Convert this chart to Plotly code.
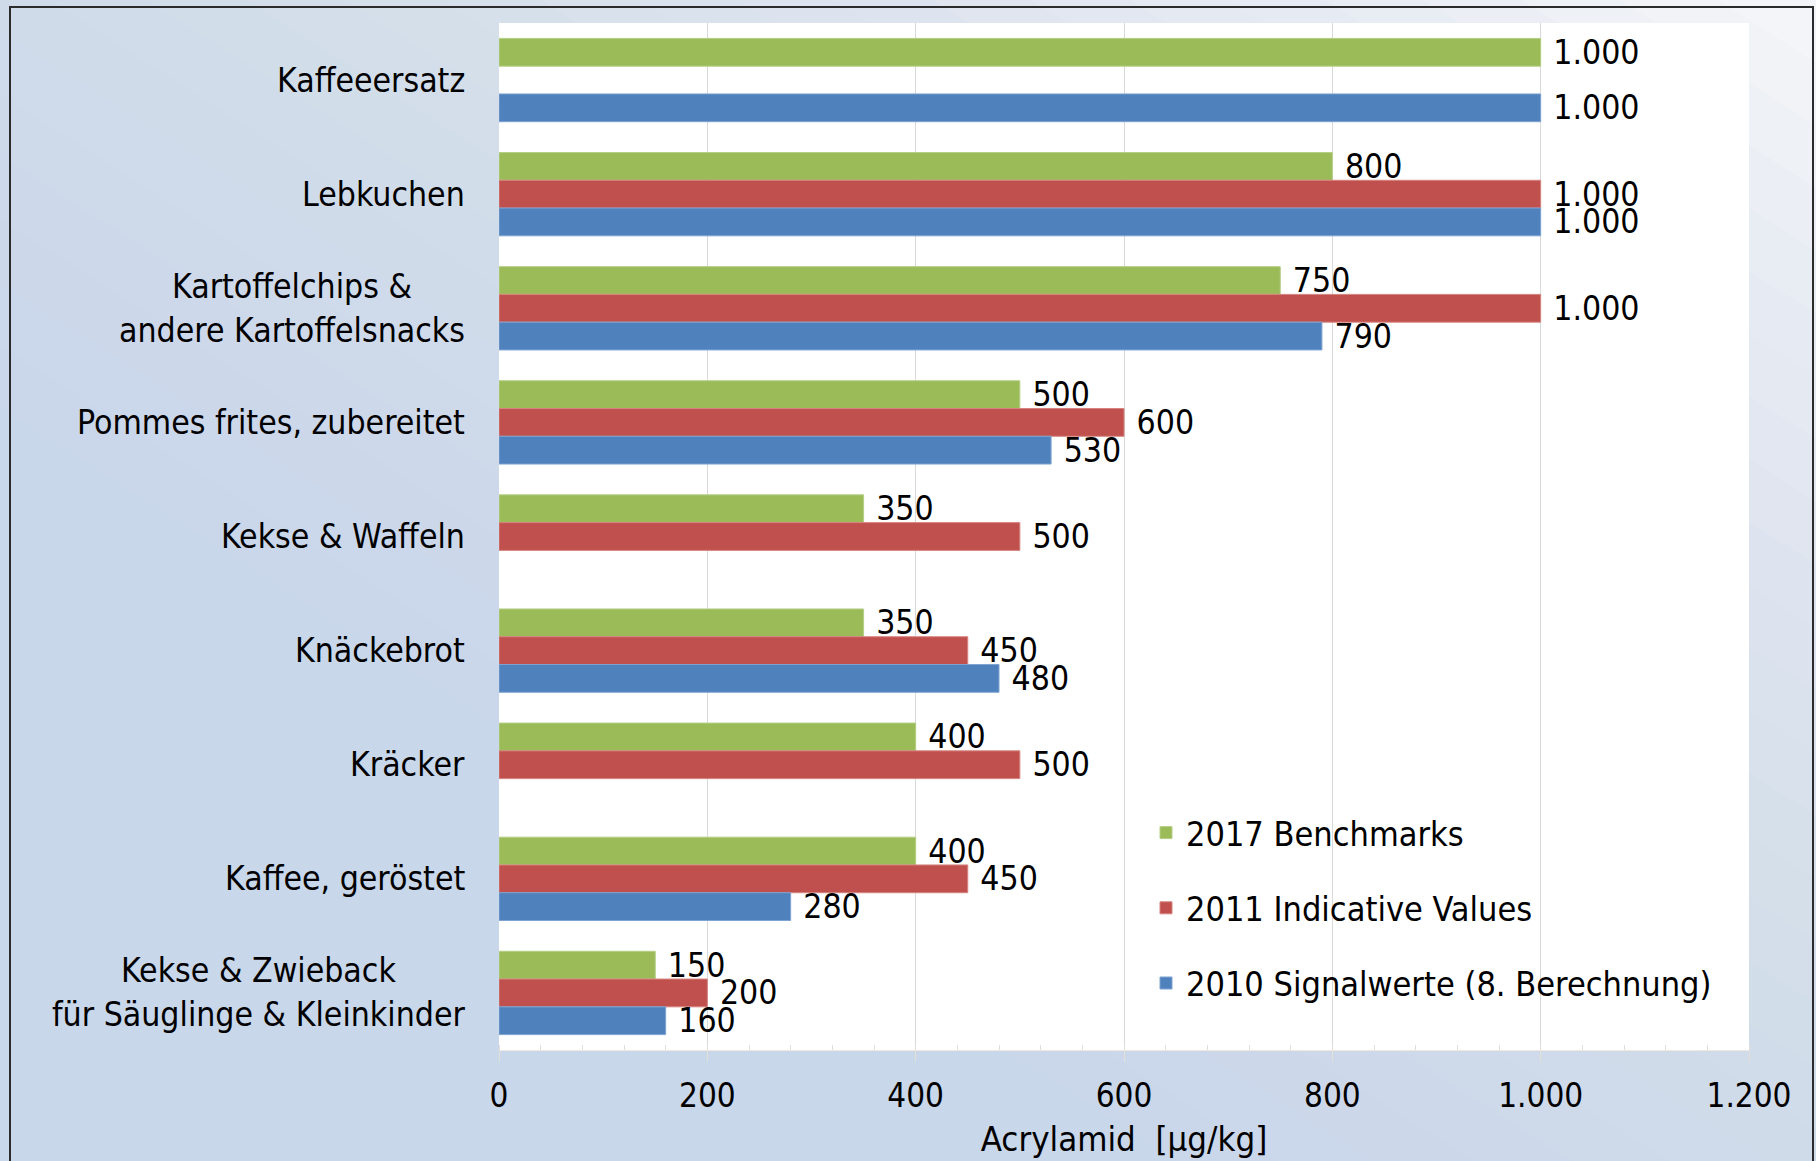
import plotly.graph_objects as go

# ---------------- data ----------------
categories = [
    "Kaffeeersatz",
    "Lebkuchen",
    "Kartoffelchips &<br>andere Kartoffelsnacks",
    "Pommes frites, zubereitet",
    "Kekse & Waffeln",
    "Knäckebrot",
    "Kräcker",
    "Kaffee, geröstet",
    "Kekse & Zwieback<br>für Säuglinge & Kleinkinder",
]
benchmarks_2017 = [1000, 800, 750, 500, 350, 350, 400, 400, 150]
indicative_2011 = [None, 1000, 1000, 600, 500, 450, 500, 450, 200]
signal_2010 = [1000, 1000, 790, 530, None, 480, None, 280, 160]

series_names = ["2017 Benchmarks", "2011 Indicative Values", "2010 Signalwerte (8. Berechnung)"]
series_values = [benchmarks_2017, indicative_2011, signal_2010]
series_colors = ["#9BBB59", "#C0504D", "#4F81BD"]
series_lines = ["#B5CF86", "#D6847F", "#7EA3D2"]

x_ticks = [0, 200, 400, 600, 800, 1000, 1200]
x_title = "Acrylamid  [µg/kg]"

# ---------------- layout geometry ----------------
W, H = 1816, 1161
ML, MR, MT, MB = 499, 67, 23, 111
PW, PH = W - ML - MR, H - MT - MB
FONT = "DejaVu Sans Condensed, DejaVu Sans, sans-serif"


def px(X):
    return (X - ML) / PW


def py(Y):
    return (H - MB - Y) / PH


fig = go.Figure()
for name, vals, col, lcol in zip(series_names, series_values, series_colors, series_lines):
    fig.add_trace(go.Bar(
        y=categories, x=vals, name=name, orientation="h",
        marker=dict(color=col, line=dict(color=lcol, width=1)),
        texttemplate=" %{x:,}", textposition="outside",
        textfont=dict(family=FONT, size=33.5, color="black"),
        constraintext="none", cliponaxis=False,
        legendgroup=name,
    ))

shapes = []
# diagonal background gradient (lighter toward top-right)
N = 36


def white_frac(t):
    return 0.9 * t ** 1.7


prev = 0.0
for k in range(1, N + 1):
    t = k / (N + 1)
    f = white_frac(t)
    a = 1 - (1 - f) / (1 - prev)
    prev = f
    d = 2 * t - 1  # u - v threshold, u = X/W, v = Y/H (from top)
    pts = [(d - 1, -1), (d + 2, 2), (3, 2), (3, -1)]
    path = "M " + " L ".join(f"{px(u * W):.4f},{py(v * H):.4f}" for u, v in pts) + " Z"
    shapes.append(dict(type="path", xref="paper", yref="paper", path=path,
                       fillcolor="white", opacity=a, line=dict(width=0), layer="below"))
# outer frame
shapes.append(dict(type="rect", xref="paper", yref="paper",
                   x0=px(10), x1=px(1813), y0=py(1180), y1=py(7),
                   line=dict(color="#2b2b2b", width=2), fillcolor="rgba(0,0,0,0)", layer="below"))

annotations = []
for c in categories:
    annotations.append(dict(x=px(467), xref="paper", y=c, yref="y", text=c,
                            xanchor="right", yanchor="middle", align="center", showarrow=False,
                            font=dict(family=FONT, size=33.5, color="black")))

fig.update_layout(
    width=W, height=H,
    margin=dict(l=ML, r=MR, t=MT, b=MB, autoexpand=False),
    paper_bgcolor="#C8D7EA", plot_bgcolor="white",
    separators=",.",
    barmode="group", bargap=0.27, bargroupgap=0,
    font=dict(family=FONT, size=33.5, color="black"),
    showlegend=True,
    legend=dict(x=px(1146), y=py(804), xanchor="left", yanchor="top",
                bgcolor="rgba(0,0,0,0)", font=dict(family=FONT, size=34, color="black"),
                tracegroupgap=28, traceorder="grouped", itemwidth=30),
    shapes=shapes, annotations=annotations,
    xaxis=dict(range=[0, 1200], tickvals=x_ticks, tickformat=",",
               showgrid=True, gridcolor="#D9D9D9", gridwidth=1,
               showline=True, linecolor="#EEE8E0", linewidth=1,
               ticks="outside", ticklen=11, tickcolor="#E4DFD6",
               minor=dict(dtick=40, ticks="inside", ticklen=5, tickcolor="#E4DFD6", showgrid=False),
               tickfont=dict(family=FONT, size=33, color="black"),
               ticklabelstandoff=5, zeroline=False,
               title=dict(text=x_title, standoff=13, font=dict(family=FONT, size=34.5, color="black"))),
    yaxis=dict(type="category", autorange="reversed", showticklabels=False,
               showgrid=False, zeroline=False, showline=False, ticks=""),
)

fig.write_html("out.html", config={"displayModeBar": False},
               post_script="document.body.style.margin='0';")
